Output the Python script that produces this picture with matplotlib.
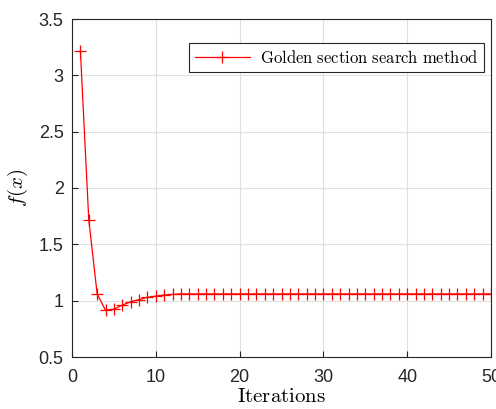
import numpy as np
import matplotlib
matplotlib.use('Agg')
import matplotlib.pyplot as plt

plt.rcParams['mathtext.fontset'] = 'cm'
plt.rcParams['font.family'] = 'Liberation Sans'

# objective value per iteration
iterations = np.arange(1, 51)
f_head = [3.22, 1.72, 1.06, 0.915, 0.925, 0.96, 0.99, 1.01, 1.03, 1.04, 1.05, 1.055]
f_values = f_head + [1.06] * (len(iterations) - len(f_head))

fig = plt.figure(figsize=(4.96, 4.09), dpi=100)
ax = fig.add_axes([72 / 496, 1 - 357 / 409, (491 - 72) / 496, (357 - 19) / 409])

ax.plot(iterations, f_values, color='red', lw=0.9, marker='+', ms=9, mew=0.9,
        label=r'$\mathrm{Golden\ section\ search\ method}$')

ax.set_xlim(0, 50)
ax.set_ylim(0.5, 3.5)
ax.set_xticks(np.arange(0, 51, 10))
ax.set_yticks(np.arange(0.5, 3.51, 0.5))
ax.set_yticklabels(['0.5', '1', '1.5', '2', '2.5', '3', '3.5'])
ax.grid(True, color='#e0e0e0', lw=0.8)
ax.set_axisbelow(True)
for s in ax.spines.values():
    s.set_color('#262626')
    s.set_linewidth(0.8)
ax.tick_params(direction='in', length=4, labelsize=13, colors='#262626')
ax.tick_params(axis='x', pad=9)
ax.tick_params(axis='y', pad=6)

ax.set_xlabel(r'$\mathrm{Iterations}$', fontsize=15, labelpad=0)
ax.set_ylabel(r'$f(x)$', fontsize=15, labelpad=6)

leg = ax.legend(loc='upper right', fontsize=12, fancybox=False, edgecolor='#262626',
                framealpha=1, handlelength=3.3, handletextpad=0.6, borderpad=0.35,
                borderaxespad=0, bbox_to_anchor=(0.983, 0.929))
leg.get_frame().set_linewidth(0.8)

fig.savefig('out.png', dpi=100)
